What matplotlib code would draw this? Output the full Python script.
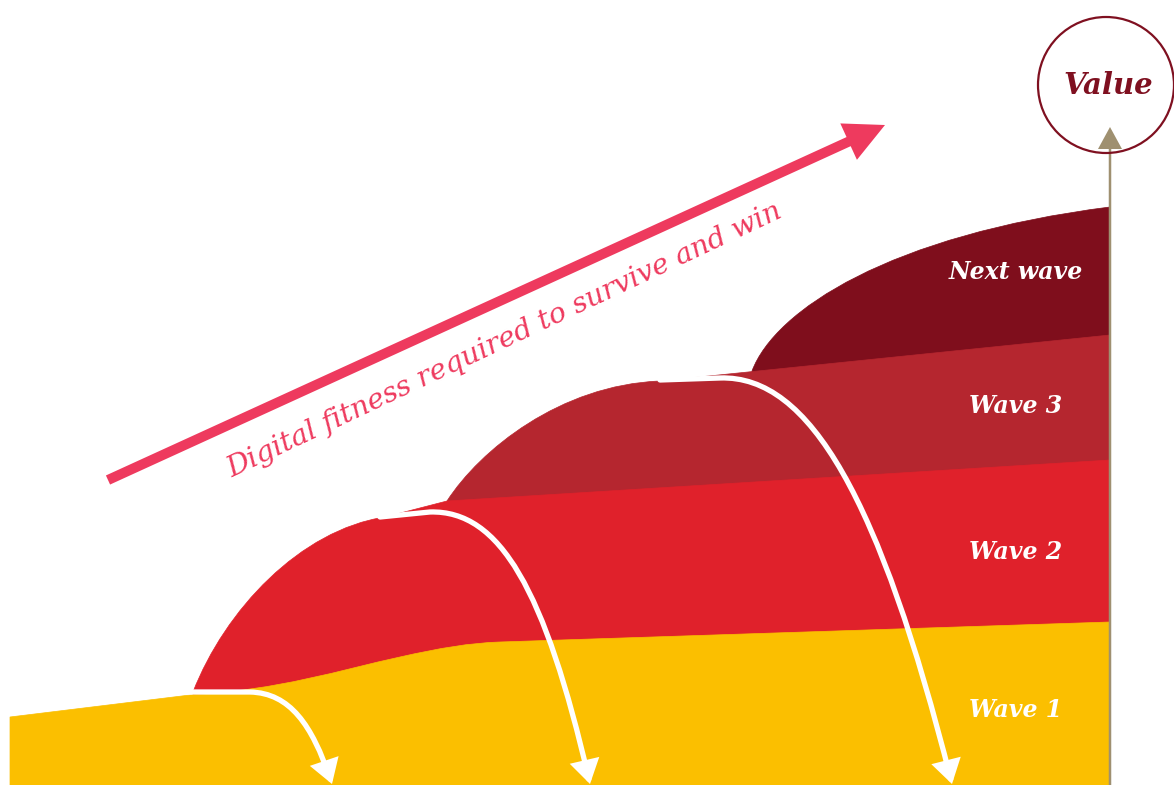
import matplotlib.pyplot as plt
from matplotlib.path import Path
from matplotlib.patches import PathPatch, Circle, FancyArrowPatch

# wave outlines in pixel space: (code, points) segments, L = line, C = cubic bezier
wave_names = ["Next wave", "Wave 3", "Wave 2", "Wave 1"]
wave_colors = ["#7f0e1c", "#b5262f", "#e0212b", "#fbbf00"]
wave_label_y = [272, 406, 552, 710]

next_wave = [("M", [(752, 371)]),
             ("C", [(775, 310), (890, 235), (1110, 207)]),
             ("L", [(1110, 785), (752, 785)])]
wave3 = [("M", [(447, 501)]),
         ("C", [(480, 450), (560, 385), (660, 381)]),
         ("L", [(1110, 335), (1110, 785), (447, 785)])]
wave2 = [("M", [(193, 692)]),
         ("C", [(225, 610), (300, 530), (385, 517)]),
         ("L", [(447, 501), (1110, 460), (1110, 785), (193, 785)])]
wave1 = [("M", [(10, 717)]),
         ("L", [(190, 695)]),
         ("C", [(280, 690), (340, 670), (400, 657)]),
         ("C", [(440, 648), (470, 643), (500, 642)]),
         ("L", [(1110, 622), (1110, 785), (10, 785)])]
waves = [next_wave, wave3, wave2, wave1]

# white "drop-off" arrows
drop1 = [("M", [(185, 692)]), ("L", [(250, 692)]),
         ("C", [(290, 693), (312, 725), (332, 784)])]
drop2 = [("M", [(380, 517)]), ("L", [(430, 512)]),
         ("C", [(500, 510), (545, 590), (590, 784)])]
drop3 = [("M", [(660, 380)]), ("L", [(720, 378)]),
         ("C", [(810, 375), (880, 500), (952, 784)])]
drops = [drop1, drop2, drop3]

fitness_start = (108, 480)
fitness_end = (885, 125)
fitness_text = "Digital fitness required to survive and win"


def make_path(segs, close=False):
    verts, codes = [], []
    for code, pts in segs:
        for p in pts:
            verts.append(p)
            codes.append({"M": Path.MOVETO, "L": Path.LINETO, "C": Path.CURVE4}[code])
    if close:
        verts.append(verts[0])
        codes.append(Path.CLOSEPOLY)
    return Path(verts, codes)


fig = plt.figure(figsize=(11.74, 7.85), dpi=100)
ax = fig.add_axes([0, 0, 1, 1])
ax.set_xlim(0, 1174)
ax.set_ylim(785, 0)
ax.axis("off")

for segs, col in zip(waves, wave_colors):
    ax.add_patch(PathPatch(make_path(segs, close=True), facecolor=col,
                           edgecolor=col, lw=0.5))

for segs in drops:
    ax.add_patch(FancyArrowPatch(path=make_path(segs), color="white", lw=3.8,
                                 arrowstyle="-|>,head_length=12,head_width=7.5",
                                 mutation_scale=1, joinstyle="miter"))

for name, y in zip(wave_names, wave_label_y):
    ax.text(1016, y, name, color="white", fontsize=17, family="DejaVu Serif",
            style="italic", weight="bold", ha="center", va="center")

# pink fitness arrow
dx = fitness_end[0] - fitness_start[0]
dy = fitness_end[1] - fitness_start[1]
ax.arrow(fitness_start[0], fitness_start[1], dx, dy, width=10, head_width=40,
         head_length=40, length_includes_head=True, color="#ee3a5e", lw=0)
ax.text(505, 340, fitness_text, color="#ee3a5e", fontsize=20.5,
        family="DejaVu Serif", style="italic", rotation=25.3,
        rotation_mode="anchor", ha="center", va="center")

# value axis
ax.arrow(1110, 785, 0, -658, width=2.5, head_width=24, head_length=22,
         length_includes_head=True, color="#9f9070", lw=0)
ax.add_patch(Circle((1106, 85), 68, facecolor="none", edgecolor="#7f1020", lw=1.6))
ax.text(1108, 85, "Value", color="#7f1020", fontsize=21, family="DejaVu Serif",
        style="italic", weight="bold", ha="center", va="center")

fig.savefig("out.png", dpi=100)
